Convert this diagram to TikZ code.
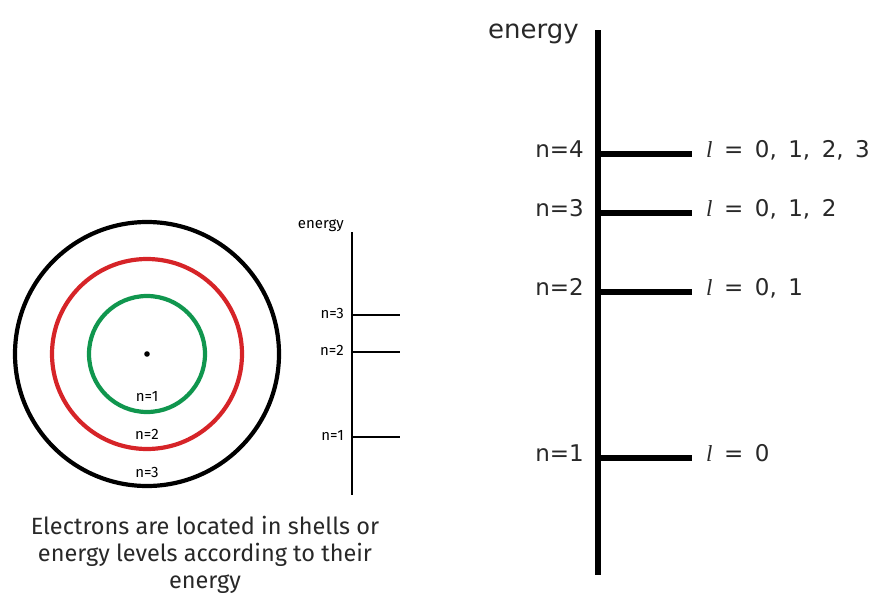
\documentclass[tikz,border=0pt]{standalone}
\usepackage{fontspec}
\setmainfont{DejaVu Sans}
\newfontfamily\narrowfont{Fira Sans}
\newfontfamily\ellfont{Liberation Serif}
\definecolor{shellgreen}{RGB}{16,150,78}
\definecolor{shellred}{RGB}{214,36,40}
\definecolor{inkgray}{RGB}{40,40,40}
\def\bigx{598}
\def\smallx{352}
\newcommand{\qnl}{{\ellfont\itshape l}}
\tikzset{
   biglabel/.style={font=\fontsize{23}{27}\selectfont, text=inkgray, inner sep=0pt, text height=0.73em, text depth=0pt},
   smalllabel/.style={font=\narrowfont\fontsize{15}{17}\selectfont, inner sep=0pt, text height=0.69em, text depth=0pt},
   bigline/.style={line width=6.5pt, line cap=butt},
   smallline/.style={line width=1.2pt},
   shell/.style={line width=4.2pt}
}

\begin{document}
\begin{tikzpicture}[x=1pt, y=-1pt]
\useasboundingbox (0,0) rectangle (878,597);

% shells
\coordinate (nucleus) at (147,354);
\draw[shell, black] (nucleus) circle (132);
\draw[shell, shellred] (nucleus) circle (95);
\draw[shell, shellgreen] (nucleus) circle (58);
\fill (nucleus) circle (2.8);
\node[smalllabel] (s-1) at (147,398) {n=1};
\node[smalllabel] (s-2) at (147,436) {n=2};
\node[smalllabel] (s-3) at (147,474) {n=3};

% small energy axis
\coordinate (sa-top) at (\smallx,232);
\coordinate (sa-bot) at (\smallx,495);
\draw[smallline] (sa-top) -- (sa-bot);
\node[smalllabel, anchor=base east] (s-energy) at (344,228) {energy};
\foreach \n/\y in {1/437, 2/352, 3/315} {
    \coordinate (st-\n) at (\smallx,\y);
    \coordinate (se-\n) at (400,\y);
    \node[smalllabel, anchor=east] (sn-\n) at (344,\y) {n=\n};
    \draw[smallline] (st-\n) -- (se-\n);
}

\node[font=\narrowfont\fontsize{23.5}{27}\selectfont, text=inkgray, align=center, inner sep=0pt, anchor=base] (caption)
    at (205,588) {Electrons are located in shells or\\energy levels according to their\\energy};

% big energy axis
\coordinate (ba-top) at (\bigx,30);
\coordinate (ba-bot) at (\bigx,575);
\draw[bigline] (ba-top) -- (ba-bot);
\node[biglabel, font=\fontsize{26}{30}\selectfont, anchor=base east] (b-energy) at (579,38) {energy};
\foreach \n/\y/\l in {1/458/{0}, 2/292/{0, 1}, 3/213/{0, 1, 2}, 4/154/{0, 1, 2, 3}} {
    \coordinate (bt-\n) at (\bigx,\y);
    \node[biglabel, anchor=east] (bn-\n) at (584,\y) {n=\n};
    \node[biglabel, anchor=west] (bl-\n) at (706,\y) {\spaceskip=11.5pt\qnl{} = \l};
    \draw[bigline] (bt-\n) -- (bl-\n.west) [shorten >=14pt];
}
\end{tikzpicture}
\end{document}
